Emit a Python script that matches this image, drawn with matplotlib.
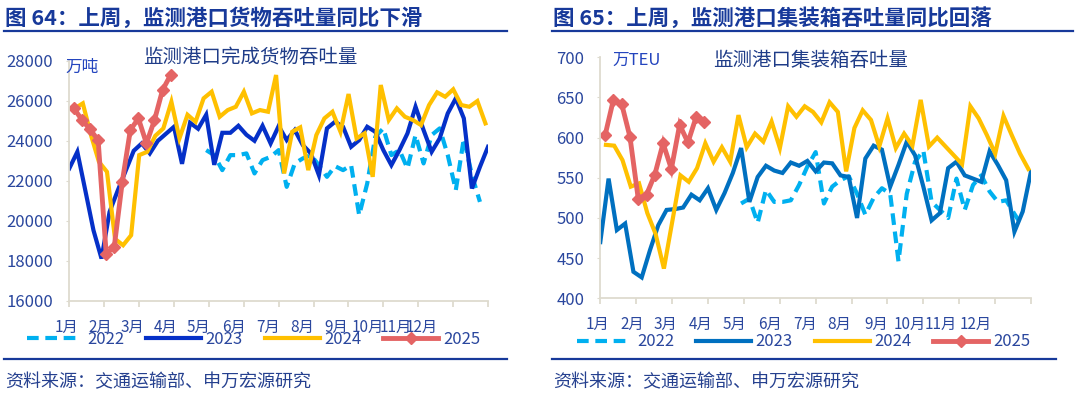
import numpy as np
import matplotlib.pyplot as plt

plt.rcParams['font.family'] = ['Noto Sans CJK SC', 'DejaVu Sans']

# ---- data (weekly) ----
months = ['1月', '2月', '3月', '4月', '5月', '6月', '7月', '8月', '9月', '10月', '11月', '12月']
years = ['2022', '2023', '2024', '2025']

# port cargo throughput, 10k tonnes
cargo_2022 = [23535, 23285, 22535, 23285, 23285, 23370, 22370, 23035, 23200, 23535,
              21700, 22870, 23120, 23285, 22785, 22200, 22735, 22535, 22785, 20285,
              21870, 24200, 24620, 23285, 23535, 22620, 24285, 22870, 24285, 24620,
              23285, 21535, 24120, 22285, 20950]
cargo_2023 = [22620, 23450, 21500, 19535, 18120, 20450, 21500, 22500, 23500, 23870,
              23370, 24000, 24350, 24700, 22850, 24900, 24600, 25300, 22800, 24400,
              24400, 24750, 24300, 24000, 24750, 23870, 24735, 24035, 24535, 23785,
              23370, 22285, 24620, 24950, 24700, 23700, 24035, 24700, 24450, 23535,
              22785, 23535, 24370, 25700, 24535, 23450, 24120, 25370, 26120, 25120,
              21620, 22700, 23700]
cargo_2024 = [25620, 25870, 24300, 22950, 22450, 19100, 18785, 19285, 23285, 23450,
              24250, 24620, 25950, 24120, 25300, 24950, 26120, 26450, 25200, 25535,
              25700, 26450, 25370, 25535, 25450, 27285, 22370, 24450, 24670, 22535,
              24285, 25120, 25450, 24450, 26335, 24120, 24370, 22200, 26785, 25035,
              25620, 25200, 25035, 24785, 25785, 26420, 26200, 26570, 25785, 25700,
              25985, 24870]
cargo_2025 = [25620, 25035, 24570, 24035, 18370, 18700, 21950, 24535, 25120, 23870,
              25035, 26535, 27285]

# container throughput, 10k TEU
teu_2022 = [518, 524, 494, 535, 520, 520, 522, 541, 564, 582,
            518, 539, 547, 552, 530, 504, 525, 537, 530, 446,
            530, 570, 584, 520, 510, 500, 549, 510, 541, 553,
            533, 520, 522, 505, 489]
teu_2023 = [470, 549, 485, 493, 433, 426, 460, 491, 510, 511,
            513, 529, 522, 537, 510, 531, 556, 587, 520, 551,
            565, 559, 556, 569, 565, 571, 558, 569, 568, 553,
            551, 500, 574, 590, 585, 539, 566, 595, 578, 539,
            497, 506, 562, 570, 553, 549, 545, 583, 566, 547,
            483, 508, 558]
teu_2024 = [591, 590, 572, 539, 543, 506, 480, 437, 495, 553,
            545, 562, 593, 570, 588, 570, 628, 588, 605, 595,
            620, 587, 639, 626, 639, 632, 619, 644, 632, 558,
            612, 634, 622, 589, 624, 587, 605, 590, 647, 589,
            600, 589, 578, 567, 639, 624, 603, 580, 627, 603,
            580, 561]
teu_2025 = [603, 647, 642, 601, 524, 529, 554, 593, 561, 616,
            594, 626, 620]

# ---- style ----
W, H = 1080, 393
navy = '#17399A'
txt_blue = '#2A479E'
axis_col = '#DEDBCF'


def fx(px):
    return px / W


def fy(py):
    return 1 - py / H


fig = plt.figure(figsize=(W / 100, H / 100), dpi=100)


def panel(rect, series, ylim, yticks, unit, unit_xy, subtitle, sub_xy,
          month_pos, dark):
    ax = fig.add_axes(rect)
    styles = [
        dict(color='#00B0F0', lw=3.0, dashes=(2.8, 1.6), start=17, off=0.0),
        dict(color=dark, lw=3.0, start=0, off=0.0),
        dict(color='#FFC000', lw=3.0, start=0, off=0.68),
        dict(color='#E46464', lw=3.5, marker='D', ms=6, start=0, off=0.58),
    ]
    handles = []
    for vals, st, yr in zip(series, styles, years):
        st = dict(st)
        x = np.arange(len(vals)) + st.pop('start') + st.pop('off')
        ln, = ax.plot(x, vals, label=yr, solid_joinstyle='miter', **st)
        handles.append(ln)
    ax.set_xlim(0, 52)
    ax.set_ylim(*ylim)
    ax.set_yticks(yticks)
    ax.set_xticks(np.linspace(0, 52, 13))
    ax.set_xticklabels([])
    for s in ['top', 'right']:
        ax.spines[s].set_visible(False)
    for s in ['left', 'bottom']:
        ax.spines[s].set_color(axis_col)
        ax.spines[s].set_linewidth(1.3)
    ax.tick_params(axis='y', length=2.5, color=axis_col, labelsize=12,
                   labelcolor=txt_blue, pad=9)
    ax.tick_params(axis='x', length=4, color=axis_col, width=1.3)
    for m, p in zip(months, month_pos):
        ax.text(p, -0.11, m, transform=ax.get_xaxis_transform(),
                ha='center', va='center', fontsize=11, color=txt_blue)
    fig.text(fx(unit_xy[0]), fy(unit_xy[1]), unit, fontsize=12,
             color='#2445BE', va='center')
    fig.text(fx(sub_xy[0]), fy(sub_xy[1]), subtitle, fontsize=14,
             color='#1F3C88', va='center')
    return ax, handles


ax1, h1 = panel([fx(69.3), fy(301), fx(418.7), 240.3 / H],
                [cargo_2022, cargo_2023, cargo_2024, cargo_2025],
                (16000, 28000), np.arange(16000, 28001, 2000),
                '万吨', (65, 67.5), '监测港口完成货物吞吐量', (143, 57.5),
                [-0.3, 3.8, 7.8, 12.0, 16.1, 20.5, 24.7, 28.9, 33.2, 37.1, 40.6, 43.8],
                '#0530C8')
ax2, h2 = panel([fx(600.3), fy(298.3), fx(430.7), 241 / H],
                [teu_2022, teu_2023, teu_2024, teu_2025],
                (400, 700), np.arange(400, 701, 50),
                '万TEU', (612, 60), '监测港口集装箱吞吐量', (713, 60),
                [-0.3, 3.8, 7.9, 12.1, 16.2, 20.5, 24.7, 28.9, 33.3, 37.4, 41.1, 45.3],
                '#0070C0')

for h, x0, y0 in [(h1, 27, 339), (h2, 577, 342)]:
    leg = fig.legend(h, years, loc='center left', bbox_to_anchor=(fx(x0), fy(y0)),
                     ncol=4, frameon=False, fontsize=12, handlelength=3.3,
                     handletextpad=0.3, columnspacing=1.3, borderpad=0,
                     borderaxespad=0, numpoints=1)
    for t in leg.get_texts():
        t.set_color(txt_blue)

titles = ['图 64：上周，监测港口货物吞吐量同比下滑', '图 65：上周，监测港口集装箱吞吐量同比回落']
for t, x0, x1, x2 in [(titles[0], 5, 507, 507), (titles[1], 553, 1073, 1056)]:
    fig.text(fx(x0), fy(18), t, fontsize=15.5, fontweight='bold', color=navy,
             va='center')
    fig.add_artist(plt.Line2D([fx(x0 - 1), fx(x1)], [fy(31), fy(31)],
                              color=navy, lw=1.6))
    fig.add_artist(plt.Line2D([fx(x0 - 1), fx(x2)], [fy(359), fy(359)],
                              color=navy, lw=1.6))
    fig.text(fx(x0), fy(382), '资料来源：交通运输部、申万宏源研究', fontsize=13,
             color='#25408F', va='center')

fig.savefig('out.png', dpi=100)
